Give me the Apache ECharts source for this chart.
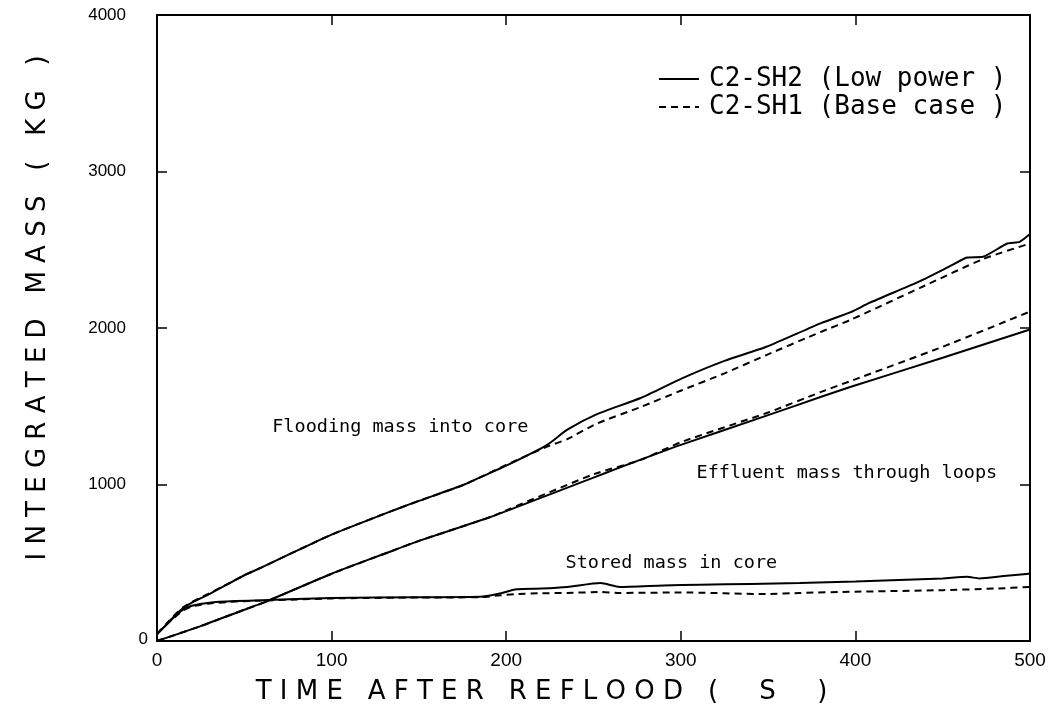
<!DOCTYPE html>
<html>
<head>
<meta charset="utf-8">
<title>Integrated mass after reflood</title>
<script src="https://cdn.jsdelivr.net/npm/echarts@6/dist/echarts.min.js"></script>
<style>
  html, body { margin: 0; padding: 0; background: #fff; }
  #chart { width: 1054px; height: 710px; }
</style>
</head>
<body>
<div id="chart"></div>
<script>
// Flooding mass into core (time in s, mass in kg)
const floodTimeSH2 = [0, 5, 10, 15, 20, 30, 40, 50, 60, 75, 100, 125, 139, 150, 175, 185, 200, 223, 235, 252, 277, 301, 325, 349, 380, 397, 408, 437, 455, 464, 473, 487, 494, 500];
const floodSH2     = [45, 100, 160, 210, 245, 300, 360, 420, 470, 550, 680, 790, 850, 895, 995, 1045, 1120, 1250, 1350, 1450, 1553, 1680, 1790, 1880, 2030, 2100, 2160, 2300, 2400, 2450, 2455, 2540, 2550, 2600];
const floodTimeSH1 = [0, 5, 10, 15, 20, 30, 40, 50, 60, 75, 100, 125, 139, 150, 175, 185, 200, 223, 235, 252, 277, 301, 325, 349, 380, 397, 437, 473, 500];
const floodSH1     = [45, 105, 165, 215, 250, 305, 362, 420, 470, 550, 680, 790, 850, 895, 995, 1045, 1125, 1240, 1290, 1390, 1495, 1604, 1710, 1827, 1974, 2051, 2256, 2440, 2540];

// Effluent mass through loops
const effTimeSH2 = [0, 25, 50, 61, 100, 133, 150, 191, 200, 250, 263, 300, 350, 380, 397, 450, 500];
const effSH2     = [0, 95, 200, 245, 430, 569, 640, 792, 830, 1044, 1100, 1253, 1443, 1559, 1623, 1810, 1990];
const effTimeSH1 = [0, 25, 50, 61, 100, 133, 150, 191, 200, 250, 277, 300, 350, 380, 397, 450, 500];
const effSH1     = [0, 95, 200, 245, 430, 569, 640, 792, 835, 1065, 1157, 1270, 1460, 1590, 1660, 1880, 2105];

// Stored mass in core
const storeTimeSH2 = [0, 5, 10, 15, 20, 30, 45, 60, 100, 150, 185, 195, 206, 220, 235, 254, 265, 290, 311, 340, 368, 400, 425, 450, 464, 471, 485, 498, 500];
const storeSH2     = [45, 100, 155, 200, 225, 245, 255, 260, 275, 280, 282, 300, 330, 335, 345, 370, 345, 355, 360, 365, 370, 380, 390, 400, 410, 400, 415, 428, 430];
const storeTimeSH1 = [0, 5, 10, 15, 20, 30, 45, 60, 100, 150, 185, 195, 206, 220, 235, 254, 265, 300, 350, 368, 400, 450, 480, 500];
const storeSH1     = [45, 100, 150, 195, 220, 240, 252, 258, 272, 278, 280, 290, 300, 305, 307, 313, 307, 310, 300, 307, 315, 325, 335, 345];

// Axis ticks
const timeTicks = [0, 100, 200, 300, 400, 500];
const massTicks = [0, 1000, 2000, 3000, 4000];

const caseSH2 = 'C2-SH2 (Low power )';
const caseSH1 = 'C2-SH1 (Base case )';

const pairs = (t, v) => t.map((x, i) => [x, v[i]]);

const solid = { color: '#000', width: 2, type: 'solid' };
const dashed = { color: '#000', width: 2, type: [7, 5] };

function curve(name, t, v, style) {
  return {
    name: name,
    type: 'line',
    data: pairs(t, v),
    symbol: 'none',
    showSymbol: false,
    smooth: 0.2,
    lineStyle: style,
    itemStyle: { color: '#000' },
    xAxisIndex: 0,
    yAxisIndex: 0,
    animation: false
  };
}

const chart = echarts.init(document.getElementById('chart'), null, { renderer: 'canvas' });

const frameAxisLine = { show: true, onZero: false, lineStyle: { color: '#000', width: 2 } };
const frameTick = { show: true, inside: true, length: 10, lineStyle: { color: '#000', width: 1.5 } };
const tickFontX = { color: '#000', fontFamily: 'Liberation Sans', fontSize: 19 };
const tickFontY = { color: '#000', fontFamily: 'Liberation Sans', fontSize: 17 };
const nameFont = { color: '#000', fontFamily: 'DejaVu Sans', fontSize: 26 };
const noteFont = 'DejaVu Sans Mono';
const plain = v => String(v);

chart.setOption({
  backgroundColor: '#fff',
  animation: false,
  grid: { left: 157, right: 24, top: 15, bottom: 69 },
  legend: {
    left: 653,
    top: 61,
    orient: 'vertical',
    itemWidth: 40,
    itemHeight: 14,
    itemGap: 2,
    data: [caseSH2, caseSH1],
    itemStyle: { opacity: 0 },
    lineStyle: { opacity: 1 },
    textStyle: { color: '#000', fontFamily: noteFont, fontSize: 26, padding: [0, 0, 0, 5] }
  },
  xAxis: [
    {
      type: 'value', min: timeTicks[0], max: timeTicks[timeTicks.length - 1], interval: 100,
      position: 'bottom',
      axisLine: frameAxisLine, axisTick: frameTick, splitLine: { show: false },
      axisLabel: Object.assign({ margin: 10, formatter: plain }, tickFontX),
      name: 'T I M E   A F T E R   R E F L O O D   (     S     )',
      nameLocation: 'middle', nameGap: 38,
      nameTextStyle: Object.assign({ padding: [0, 104, 0, 0] }, nameFont)
    },
    {
      type: 'value', min: timeTicks[0], max: timeTicks[timeTicks.length - 1], interval: 100,
      position: 'top',
      axisLine: frameAxisLine, axisTick: frameTick, splitLine: { show: false },
      axisLabel: { show: false }
    }
  ],
  yAxis: [
    {
      type: 'value', min: massTicks[0], max: massTicks[massTicks.length - 1], interval: 1000,
      position: 'left',
      axisLine: frameAxisLine, axisTick: frameTick, splitLine: { show: false },
      axisLabel: Object.assign({ margin: 31, formatter: plain, showMinLabel: false }, tickFontY),
      name: 'I N T E G R A T E D   M A S S   (   K G   )',
      nameLocation: 'middle', nameGap: 106, nameRotate: 90,
      nameTextStyle: Object.assign({ padding: [0, 0, 0, 40] }, nameFont)
    },
    {
      type: 'value', min: massTicks[0], max: massTicks[massTicks.length - 1], interval: 1000,
      position: 'right',
      axisLine: frameAxisLine, axisTick: frameTick, splitLine: { show: false },
      axisLabel: { show: false }
    }
  ],
  series: [
    curve(caseSH2, floodTimeSH2, floodSH2, solid),
    curve(caseSH2, effTimeSH2, effSH2, solid),
    curve(caseSH2, storeTimeSH2, storeSH2, solid),
    curve(caseSH1, floodTimeSH1, floodSH1, dashed),
    curve(caseSH1, effTimeSH1, effSH1, dashed),
    curve(caseSH1, storeTimeSH1, storeSH1, dashed)
  ]
});

// Curve annotations, anchored in data coordinates
const notes = [
  { text: 'Flooding mass into core', at: [66, 1367] },
  { text: 'Effluent mass through loops', at: [309, 1073] },
  { text: 'Stored mass in core', at: [234, 498] }
];
const origin = chart.convertToPixel({ xAxisIndex: 0, yAxisIndex: 0 }, [timeTicks[0], massTicks[0]]);
chart.setOption({
  graphic: notes.map(n => {
    const p = chart.convertToPixel({ xAxisIndex: 0, yAxisIndex: 0 }, n.at);
    return {
      type: 'text', left: p[0], top: p[1] - 9,
      style: { text: n.text, fill: '#000', font: '18.5px "' + noteFont + '"' },
      silent: true
    };
  }).concat([{
    // zero label of the mass axis sits close to the corner
    type: 'text', x: origin[0] - 9, y: origin[1] - 2,
    style: { text: String(massTicks[0]), fill: '#000', font: '17px "Liberation Sans"', align: 'right', verticalAlign: 'middle' },
    silent: true
  }])
});
</script>
</body>
</html>
